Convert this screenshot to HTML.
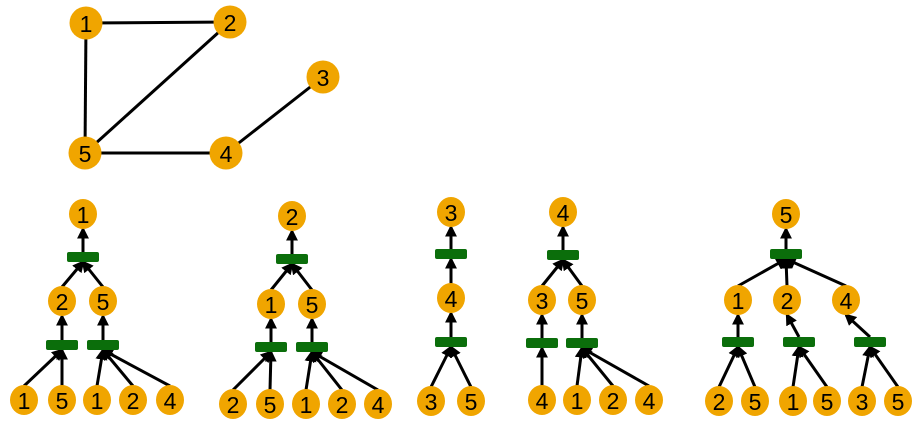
<!DOCTYPE html>
<html><head><meta charset="utf-8"><style>
body{margin:0;background:#fff;width:921px;height:425px;overflow:hidden}
text{font-family:"Liberation Sans",sans-serif;font-size:23px;fill:#000;text-anchor:middle;dominant-baseline:central}
</style></head><body>
<svg id="s" width="921" height="425" viewBox="0 0 921 425" xmlns="http://www.w3.org/2000/svg">
<defs><marker id="a" markerWidth="4" markerHeight="4" refX="3.2" refY="2" orient="auto" markerUnits="strokeWidth"><path d="M0,0 L4,2 L0,4 z" fill="#000"/></marker></defs>
<g stroke="#000" stroke-width="3">
<line x1="86" y1="23" x2="230" y2="22"/><line x1="86" y1="23" x2="85" y2="153"/><line x1="230" y1="22" x2="85" y2="153"/><line x1="85" y1="153" x2="226" y2="153"/><line x1="226" y1="153" x2="323" y2="77"/>
</g>
<g fill="#f0a500">
<circle cx="86" cy="23" r="16.5"/><circle cx="230" cy="22" r="16.5"/><circle cx="323" cy="77" r="16.5"/><circle cx="226" cy="153" r="16.5"/><circle cx="85" cy="153" r="16.5"/>
</g>
<text x="86" y="24">1</text><text x="230" y="23">2</text><text x="323" y="78">3</text><text x="226" y="154">4</text><text x="85" y="154">5</text>
</svg>
<script>
const s=document.getElementById('s');const NS='http://www.w3.org/2000/svg';
function el(t,a,txt){const e=document.createElementNS(NS,t);for(const k in a)e.setAttribute(k,a[k]);if(txt)e.textContent=txt;s.appendChild(e);return e;}
const nodes=[],bars=[],arrows=[];
function N(x,y,l){nodes.push([x,y,l]);}
function B(x,y){bars.push([x,y]);}
function A(x1,y1,x2,y2){arrows.push([x1,y1,x2,y2]);}
function up(cx,cy,bx,by){A(cx,cy-14,bx,by+5);}
function barUp(bx,by,px,py){A(bx,by-5,px,py+15);}
function T(root,bar,kids){
 N(...root);B(...bar);barUp(bar[0],bar[1],root[0],root[1]);
 kids.forEach(k=>{N(k[0],k[1],k[2]);up(k[0],k[1],bar[0],bar[1]);
  if(k[3]){B(...k[3]);barUp(k[3][0],k[3][1],k[0],k[1]);k[4].forEach(l=>{N(l[0],l[1],l[2]);up(l[0],l[1],k[3][0],k[3][1]);});}
 });
}
T([83,214,'1'],[83,257],[[62,301,'2',[62,345],[[24,400,'1'],[62,400,'5']]],[103,301,'5',[103,345],[[97,400,'1'],[133,400,'2'],[170,400,'4']]]]);
T([292,216,'2'],[292,259],[[271,304,'1',[271,347],[[233,404,'2'],[270,404,'5']]],[312,304,'5',[312,347],[[306,404,'1'],[342,404,'2'],[378,404,'4']]]]);
T([451,212,'3'],[451,254],[[451,298,'4',[451,342],[[431,401,'3'],[471,401,'5']]]]);
T([563,212,'4'],[563,255],[[542,300,'3',[542,343],[[542,400,'4']]],[582,300,'5',[582,343],[[577,400,'1'],[613,400,'2'],[649,400,'4']]]]);
T([786,214,'5'],[786,254],[[738,300,'1',[738,342],[[719,401,'2'],[755,401,'5']]],[787,300,'2',[799,342],[[793,401,'1'],[827,401,'5']]],[846,300,'4',[870,342],[[862,401,'3'],[898,401,'5']]]]);
arrows.forEach(a=>el('line',{x1:a[0],y1:a[1],x2:a[2],y2:a[3],stroke:'#000','stroke-width':3,'marker-end':'url(#a)'}));
bars.forEach(b=>el('rect',{x:b[0]-16,y:b[1]-5,width:32,height:10,rx:2,fill:'#0b6e0b'}));
nodes.forEach(n=>{el('ellipse',{cx:n[0],cy:n[1],rx:14,ry:15,fill:'#f0a500'});el('text',{x:n[0],y:n[1]+1},n[2]);});
</script>
</body></html>
